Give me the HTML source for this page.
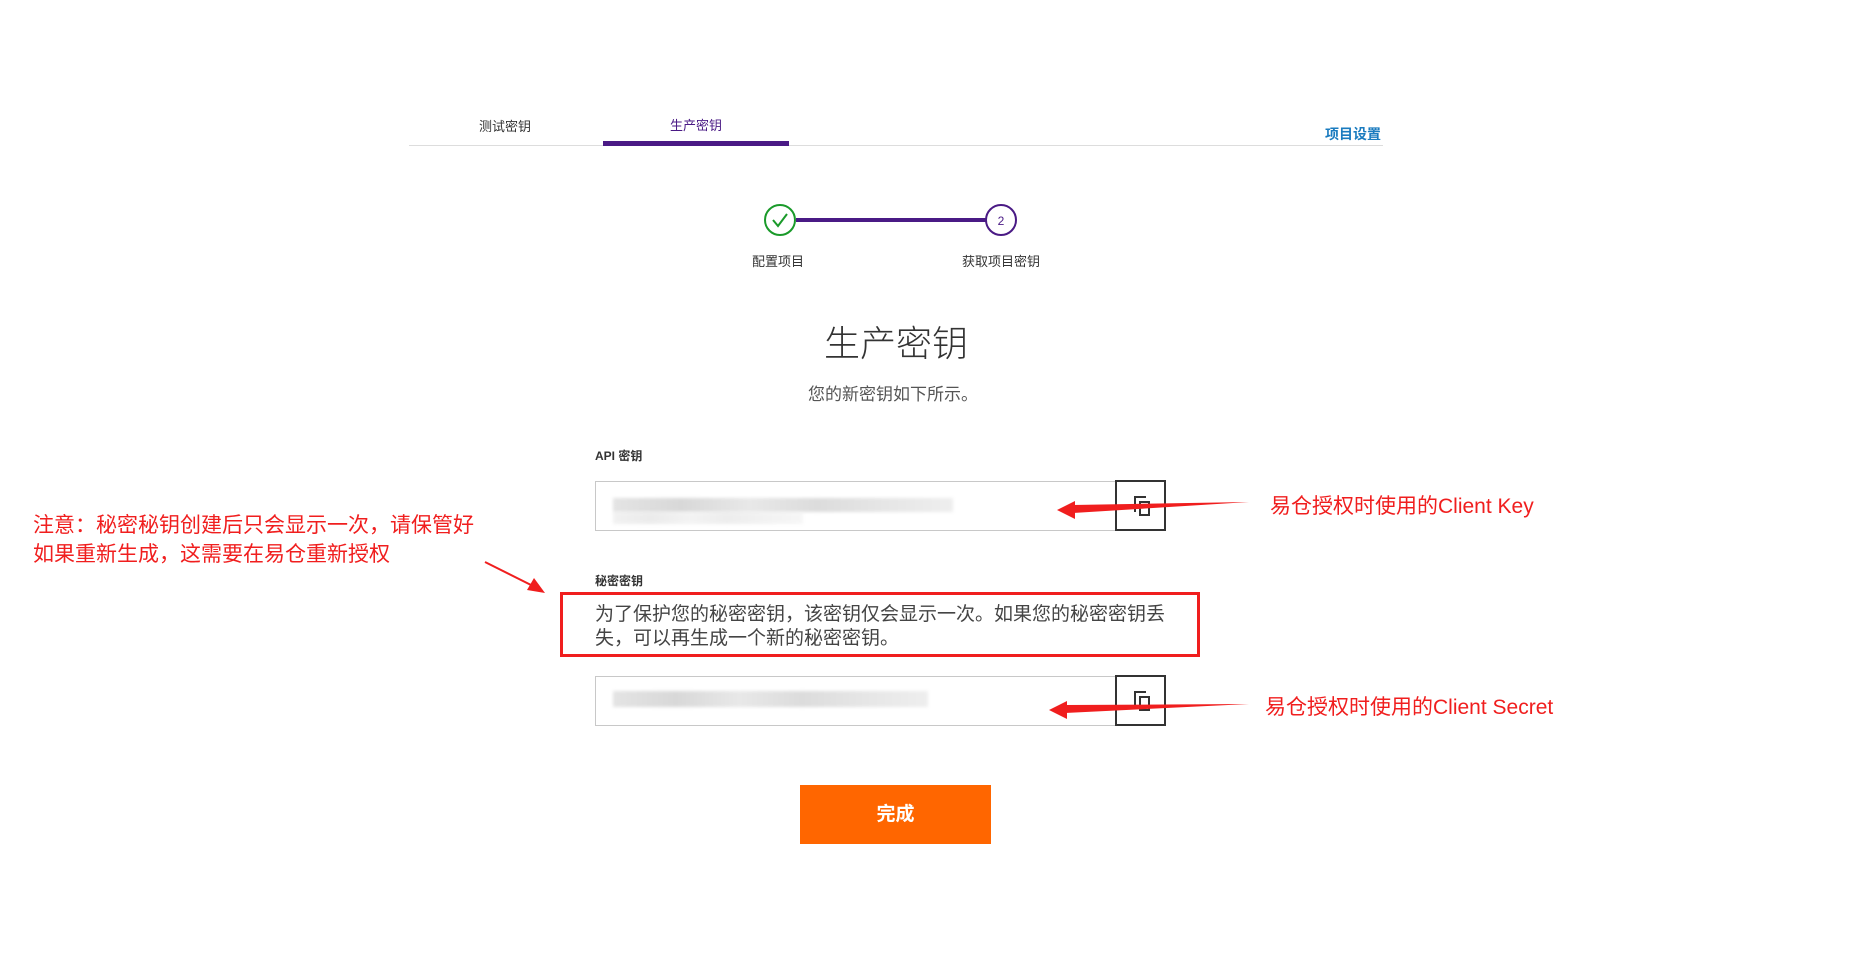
<!DOCTYPE html>
<html><head><meta charset="utf-8">
<style>
*{margin:0;padding:0;box-sizing:border-box}
body{width:1865px;height:958px;background:#fff;position:relative;overflow:hidden;font-family:"Liberation Sans","Noto Sans CJK SC",sans-serif}
#w{position:absolute;left:-3px;top:-2px;width:1865px;height:958px}
.a{position:absolute;white-space:nowrap}
.c{transform:translateX(-50%)}
.in{position:absolute;left:598px;width:522px;border:1px solid #c8c8c8;border-right:none;background:#fff}
.cp{position:absolute;left:1118px;width:51px;border:2px solid #333;background:#fff}
.blur{position:absolute;left:616px;height:14px;background:linear-gradient(90deg,#e4e4e4,#d8d8d8 20%,#e8e8e8 40%,#dcdcdc 60%,#e6e6e6 80%,#eee);filter:blur(1.5px)}
.red{color:#f01e1e}
</style></head><body><div id="w">
<div style="position:absolute;left:412px;top:147px;width:974px;height:1px;background:#ddd"></div>
<div style="position:absolute;left:606px;top:143px;width:186px;height:5px;background:#4a1a85"></div>
<div class="a c" style="left:508px;top:118px;font-size:13px;color:#333">测试密钥</div>
<div class="a c" style="left:699px;top:117px;font-size:13px;color:#4a1a85">生产密钥</div>
<div class="a c" style="left:1356px;top:126px;font-size:14px;color:#1a7bbf;font-weight:bold">项目设置</div>
<div class="a c" style="left:781px;top:253px;font-size:13px;color:#333">配置项目</div>
<div class="a c" style="left:1004px;top:253px;font-size:13px;color:#333">获取项目密钥</div>
<div class="a c" style="left:899px;top:317px;font-size:36px;color:#333;font-weight:300">生产密钥</div>
<div class="a c" style="left:896px;top:382px;font-size:17px;color:#555">您的新密钥如下所示。</div>
<div class="a" style="left:598px;top:449px;font-size:12px;color:#333;font-weight:bold">API 密钥</div>
<div class="in" style="top:483px;height:50px"></div>
<div class="blur" style="top:500px;width:340px"></div>
<div class="blur" style="top:514px;width:190px;height:12px;opacity:.5"></div>
<div class="cp" style="top:482px;height:51px"></div>
<div class="a" style="left:1137px;top:498px;width:12px;height:16px;border:2px solid #333;border-bottom:none;border-right:none"></div>
<div class="a" style="left:1142px;top:503px;width:11px;height:15px;border:2px solid #333"></div>
<div class="a" style="left:598px;top:574px;font-size:12px;color:#333;font-weight:bold">秘密密钥</div>
<div class="a" style="left:563px;top:594px;width:640px;height:65px;border:3px solid #f01e1e"></div>
<div class="a" style="left:598px;top:605px;font-size:19px;color:#444;line-height:24px;white-space:normal;width:580px">为了保护您的秘密密钥，该密钥仅会显示一次。如果您的秘密密钥丢失，可以再生成一个新的秘密密钥。</div>
<div class="in" style="top:678px;height:50px"></div>
<div class="blur" style="top:693px;width:315px;height:16px"></div>
<div class="cp" style="top:677px;height:51px"></div>
<div class="a" style="left:1137px;top:693px;width:12px;height:16px;border:2px solid #333;border-bottom:none;border-right:none"></div>
<div class="a" style="left:1142px;top:698px;width:11px;height:15px;border:2px solid #333"></div>
<div class="a" style="left:803px;top:787px;width:191px;height:59px;background:#ff6600;color:#fff;font-size:19px;font-weight:bold;text-align:center;line-height:59px">完成</div>
<div class="a red" style="left:36px;top:513px;font-size:21px;line-height:29px">注意：秘密秘钥创建后只会显示一次，请保管好<br>如果重新生成，这需要在易仓重新授权</div>
<div class="a red" style="left:1273px;top:492px;font-size:21px">易仓授权时使用的Client Key</div>
<div class="a red" style="left:1268px;top:693px;font-size:21px">易仓授权时使用的Client Secret</div>
<svg class="a" style="left:0;top:0" width="1865" height="958">
<line x1="799" y1="222" x2="989" y2="222" stroke="#4a1a85" stroke-width="4"/>
<circle cx="783" cy="222" r="15" fill="#fff" stroke="#1a9a2a" stroke-width="2"/>
<polyline points="776,222 781,228 790,216" fill="none" stroke="#1a9a2a" stroke-width="2"/>
<circle cx="1004" cy="222" r="15" fill="#fff" stroke="#4a1a85" stroke-width="2"/>
<text x="1004" y="227" font-size="12" text-anchor="middle" fill="#4a1a85" font-family="Liberation Sans">2</text>
<polygon points="1252,504 1076,507 1076,515" fill="#f01e1e"/>
<polygon points="1060,512 1078,503 1078,521" fill="#f01e1e"/>
<polygon points="1252,706 1068,707 1068,715" fill="#f01e1e"/>
<polygon points="1052,712 1070,703 1070,721" fill="#f01e1e"/>
<line x1="488" y1="564" x2="540" y2="590" stroke="#f01e1e" stroke-width="2"/>
<polygon points="548,595 530,592 537,580" fill="#f01e1e"/>
</svg>
</div></body></html>
